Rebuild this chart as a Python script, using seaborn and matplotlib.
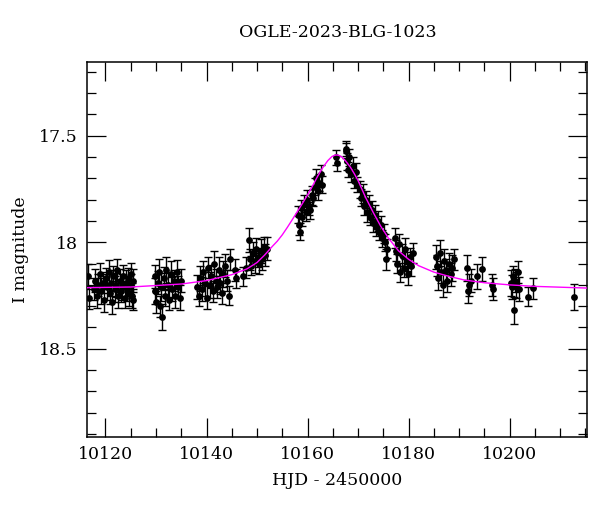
import seaborn as sns
import pandas as pd
import matplotlib.pyplot as plt
from matplotlib.ticker import MultipleLocator

# OGLE photometry (HJD - 2450000, I mag, error)
hjd_s1 = [10116.6, 10116.7, 10117.8, 10118.0, 10118.3, 10118.6, 10119.0, 10119.2, 10119.5,
          10119.8, 10120.1, 10120.3, 10120.6, 10120.8, 10121.0, 10121.3, 10121.5, 10121.8,
          10122.0, 10122.2, 10122.5, 10122.8, 10123.0, 10123.3, 10123.5, 10123.8, 10124.0,
          10124.2, 10124.5, 10124.7, 10125.0, 10125.1, 10125.3, 10125.4, 10125.5]
mag_s1 = [18.16, 18.26, 18.22, 18.18, 18.25, 18.20, 18.15, 18.23, 18.19,
          18.27, 18.17, 18.21, 18.14, 18.24, 18.19, 18.28, 18.16, 18.22,
          18.20, 18.13, 18.25, 18.18, 18.23, 18.21, 18.16, 18.26, 18.19,
          18.22, 18.17, 18.24, 18.15, 18.20, 18.25, 18.18, 18.27]
err_s1 = [0.06, 0.055, 0.05, 0.055, 0.06, 0.05, 0.055, 0.06, 0.05,
          0.055, 0.05, 0.06, 0.055, 0.05, 0.06, 0.055, 0.05, 0.06,
          0.055, 0.05, 0.06, 0.055, 0.05, 0.06, 0.055, 0.05, 0.06,
          0.055, 0.05, 0.06, 0.055, 0.05, 0.06, 0.055, 0.05]

hjd_s2 = [10129.8, 10129.9, 10130.0, 10130.3, 10130.6, 10130.8, 10131.0, 10131.2, 10131.5,
          10131.8, 10132.0, 10132.3, 10132.6, 10132.9, 10133.2, 10133.5, 10133.8, 10134.1,
          10134.4, 10134.7, 10135.0]
mag_s2 = [18.16, 18.23, 18.28, 18.19, 18.14, 18.30, 18.21, 18.35, 18.17,
          18.25, 18.13, 18.20, 18.27, 18.15, 18.22, 18.18, 18.25, 18.14,
          18.21, 18.26, 18.18]
err_s2 = [0.055, 0.06, 0.05, 0.055, 0.06, 0.05, 0.065, 0.06, 0.055,
          0.05, 0.06, 0.055, 0.05, 0.06, 0.055, 0.05, 0.06, 0.055,
          0.05, 0.06, 0.055]

hjd_s3 = [10138.2, 10138.5, 10138.8, 10139.1, 10139.4, 10139.7, 10140.0, 10140.3, 10140.6,
          10140.9, 10141.2, 10141.5, 10141.8, 10142.1, 10142.4, 10142.7, 10143.0, 10143.3,
          10143.6, 10144.0, 10144.5, 10144.7, 10145.6, 10145.8]
mag_s3 = [18.21, 18.25, 18.17, 18.22, 18.14, 18.19, 18.26, 18.12, 18.20,
          18.16, 18.23, 18.10, 18.18, 18.21, 18.13, 18.19, 18.24, 18.15,
          18.11, 18.18, 18.25, 18.08, 18.13, 18.17]
err_s3 = [0.055, 0.05, 0.06, 0.055, 0.05, 0.06, 0.055, 0.05, 0.06,
          0.055, 0.05, 0.06, 0.055, 0.05, 0.06, 0.055, 0.05, 0.06,
          0.055, 0.05, 0.045, 0.05, 0.05, 0.045]

hjd_s4 = [10147.3, 10147.8, 10148.4, 10148.6, 10148.9, 10149.2, 10149.5, 10149.8, 10150.1,
          10150.4, 10150.7, 10151.0, 10151.3, 10151.6, 10151.9]
mag_s4 = [18.16, 18.12, 17.99, 18.08, 18.11, 18.05, 18.09, 18.03, 18.07,
          18.10, 18.04, 18.08, 18.02, 18.06, 18.03]
err_s4 = [0.045, 0.05, 0.055, 0.05, 0.045, 0.05, 0.055, 0.05, 0.045,
          0.05, 0.055, 0.05, 0.045, 0.05, 0.055]

hjd_s5 = [10158.2, 10158.4, 10158.5, 10158.7, 10159.0, 10159.3, 10159.6, 10159.9, 10160.2,
          10160.5, 10160.8, 10161.1, 10161.4, 10161.7, 10162.0, 10162.3, 10162.6, 10162.9,
          10165.6, 10165.8, 10167.6, 10167.7, 10167.9, 10168.1, 10168.3, 10168.6, 10168.9,
          10169.2, 10169.5, 10169.8]
mag_s5 = [17.87, 17.92, 17.95, 17.84, 17.88, 17.82, 17.86, 17.80, 17.83,
          17.85, 17.78, 17.79, 17.74, 17.70, 17.76, 17.72, 17.68, 17.73,
          17.60, 17.63, 17.57, 17.56, 17.62, 17.66, 17.60, 17.68, 17.64,
          17.71, 17.67, 17.73]
err_s5 = [0.04, 0.045, 0.04, 0.04, 0.045, 0.04, 0.04, 0.045, 0.04,
          0.04, 0.045, 0.04, 0.04, 0.045, 0.04, 0.04, 0.045, 0.04,
          0.035, 0.035, 0.035, 0.035, 0.04, 0.035, 0.04, 0.035, 0.04,
          0.035, 0.04, 0.035]

hjd_s6 = [10170.4, 10170.6, 10170.9, 10171.2, 10171.5, 10171.8, 10172.1, 10172.4, 10172.7,
          10173.0, 10173.3, 10173.6, 10173.9, 10174.2, 10174.5, 10174.8, 10175.1, 10175.4,
          10175.6, 10175.8, 10177.3, 10177.5, 10177.8, 10178.1, 10178.4, 10178.7, 10179.0,
          10179.3, 10179.6, 10179.9, 10180.2, 10180.5, 10180.8]
mag_s6 = [17.75, 17.79, 17.77, 17.83, 17.80, 17.86, 17.82, 17.88, 17.85,
          17.91, 17.87, 17.93, 17.90, 17.95, 17.92, 17.98, 17.96, 18.00,
          18.08, 18.03, 17.98, 18.04, 18.10, 18.01, 18.14, 18.06, 18.12,
          18.03, 18.09, 18.15, 18.07, 18.11, 18.05]
err_s6 = [0.04, 0.04, 0.045, 0.04, 0.04, 0.045, 0.04, 0.04, 0.045,
          0.04, 0.045, 0.04, 0.045, 0.04, 0.045, 0.04, 0.045, 0.04,
          0.05, 0.045, 0.045, 0.05, 0.045, 0.05, 0.045, 0.05, 0.045,
          0.05, 0.045, 0.05, 0.045, 0.05, 0.045]

hjd_s7 = [10185.4, 10185.6, 10185.8, 10186.2, 10186.5, 10186.8, 10187.1, 10187.4, 10187.7,
          10188.0, 10188.3, 10188.6, 10188.9, 10191.6, 10191.7, 10192.0, 10192.3, 10193.5,
          10194.6, 10196.6, 10196.7, 10200.2, 10200.4, 10200.6, 10200.8, 10201.1, 10201.3,
          10201.6, 10201.8, 10203.7, 10204.7, 10212.7]
mag_s7 = [18.07, 18.11, 18.17, 18.05, 18.14, 18.20, 18.09, 18.13, 18.18,
          18.10, 18.15, 18.12, 18.08, 18.12, 18.23, 18.20, 18.18, 18.16,
          18.125, 18.20, 18.22, 18.19, 18.21, 18.16, 18.32, 18.18, 18.20,
          18.14, 18.22, 18.255, 18.216, 18.257]
err_s7 = [0.055, 0.05, 0.055, 0.06, 0.05, 0.055, 0.06, 0.05, 0.055,
          0.05, 0.055, 0.06, 0.05, 0.06, 0.055, 0.05, 0.055, 0.06,
          0.055, 0.05, 0.05, 0.06, 0.055, 0.05, 0.065, 0.055, 0.06,
          0.05, 0.055, 0.045, 0.05, 0.06]

# model curve
model_hjd = [10116.4, 10125, 10135, 10140, 10145, 10148, 10150, 10151.5, 10153, 10154,
             10155, 10156, 10157, 10158, 10159, 10160, 10161, 10162, 10163, 10164,
             10164.8, 10165.4, 10165.8, 10166.2, 10166.8, 10167.5, 10168.5, 10169.3, 10170,
             10171.5, 10173, 10174.5, 10176, 10178, 10180, 10182, 10185, 10188, 10191,
             10195, 10200, 10205, 10215.4]
model_mag = [18.213, 18.21, 18.196, 18.18, 18.152, 18.125, 18.095, 18.06, 18.02, 17.995,
             17.965, 17.93, 17.893, 17.855, 17.817, 17.778, 17.735, 17.69, 17.65, 17.617,
             17.598, 17.591, 17.59, 17.592, 17.60, 17.617, 17.648, 17.68, 17.71,
             17.79, 17.86, 17.925, 17.98, 18.04, 18.08, 18.11, 18.14, 18.16, 18.177,
             18.19, 18.20, 18.207, 18.215]

obs = pd.DataFrame({
    "hjd": hjd_s1 + hjd_s2 + hjd_s3 + hjd_s4 + hjd_s5 + hjd_s6 + hjd_s7,
    "mag": mag_s1 + mag_s2 + mag_s3 + mag_s4 + mag_s5 + mag_s6 + mag_s7,
    "err": err_s1 + err_s2 + err_s3 + err_s4 + err_s5 + err_s6 + err_s7,
})
model = pd.DataFrame({"hjd": model_hjd, "mag": model_mag})

sns.set_style("ticks")
plt.rcParams['font.family'] = ['DejaVu Serif']
plt.rcParams['text.color'] = 'black'
plt.rcParams['axes.labelcolor'] = 'black'
plt.rcParams['xtick.color'] = 'black'
plt.rcParams['ytick.color'] = 'black'

fig = plt.figure(figsize=(6, 5.12), dpi=100)
ax = fig.add_axes([0.1455, 0.147, 0.8335, 0.7313])

ax.errorbar(obs.hjd, obs.mag, yerr=obs.err, fmt='none', ecolor='black',
            elinewidth=1.0, capsize=3.0, capthick=1.0, zorder=2)
sns.scatterplot(x='hjd', y='mag', data=obs, color='black', s=24,
                edgecolor='black', linewidth=0, ax=ax, zorder=3)
sns.lineplot(x='hjd', y='mag', data=model, color='#ff00ff', linewidth=1.0,
             sort=False, ax=ax, zorder=4)

ax.set_xlim(10116.4, 10215.4)
ax.set_ylim(18.913, 17.155)
ax.xaxis.set_major_locator(MultipleLocator(20))
ax.xaxis.set_minor_locator(MultipleLocator(5))
ax.yaxis.set_minor_locator(MultipleLocator(0.1))
ax.set_yticks([17.5, 18, 18.5])
ax.set_yticklabels(['17.5', '18', '18.5'])
ax.tick_params(which='both', direction='in', top=True, right=True,
               labelsize=12.5, width=0.9)
ax.tick_params(which='major', length=13.5, pad=7)
ax.tick_params(which='minor', length=6.5)
for sp in ax.spines.values():
    sp.set_linewidth(1.1)
    sp.set_color('black')

ax.set_xlabel('HJD - 2450000', fontsize=12.5, labelpad=6)
ax.set_ylabel('I magnitude', fontsize=12.5, labelpad=7)
ax.set_title('OGLE-2023-BLG-1023', fontsize=12.5, pad=18)

fig.savefig('out.png', dpi=100)
